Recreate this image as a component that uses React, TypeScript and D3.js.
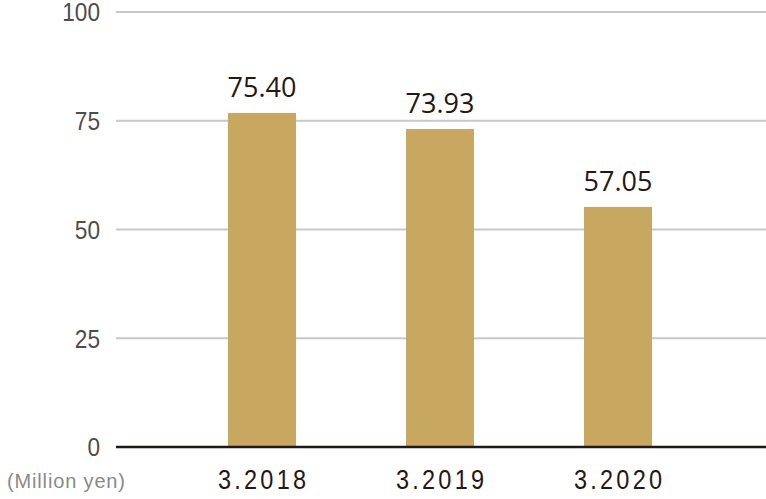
import React from 'react';
import * as d3 from 'd3';

// fiscal years on the x axis
const categories = ['3.2018', '3.2019', '3.2020'];
// bar heights as drawn in the picture
const barValues = [76.8, 73.1, 55.2];
// printed value labels above the bars
const valueLabels = ['75.40', '73.93', '57.05'];
const yTicks = [0, 25, 50, 75, 100];
const unitLabel = '(Million yen)';

const width = 766;
const height = 499;

function App() {
  const y = d3.scaleLinear().domain([0, 100]).range([447, 12]);
  const x = d3
    .scaleBand<string>()
    .domain(categories)
    .range([173, 707])
    .paddingInner(0.618)
    .paddingOuter(0.309);

  const sans = '"Liberation Sans", Arial, sans-serif';
  const squeeze = 0.87; // condensed look

  return (
    <svg
      width={width}
      height={height}
      style={{ position: 'absolute', left: 0, top: 0, display: 'block', background: '#fff' }}
    >
      {/* grid lines + y tick labels */}
      {yTicks.map((t) => (
        <g key={t}>
          {t !== 0 && (
            <line x1={116} x2={width} y1={y(t)} y2={y(t)} stroke="#c8c8c8" strokeWidth={2} />
          )}
          <text
            transform={`translate(100,${y(t)}) scale(${squeeze},1)`}
            dy="0.36em"
            textAnchor="end"
            fontFamily={sans}
            fontSize={26}
            fill="#4f4c4c"
          >
            {t}
          </text>
        </g>
      ))}

      {/* bars */}
      {categories.map((c, i) => {
        const cx = (x(c) ?? 0) + x.bandwidth() / 2;
        return (
          <g key={c}>
            <rect
              x={x(c)}
              y={y(barValues[i])}
              width={x.bandwidth()}
              height={y(0) - y(barValues[i])}
              fill="#c8a760"
            />
            <text
              x={cx}
              y={y(barValues[i]) - 16}
              textAnchor="middle"
              fontFamily='"Open Sans", "Noto Sans", sans-serif'
              fontSize={27}
              fill="#231815"
            >
              {valueLabels[i]}
            </text>
            <text
              transform={`translate(${cx},489) scale(${squeeze},1)`}
              textAnchor="middle"
              fontFamily={sans}
              fontSize={27}
              textLength={88 / squeeze}
              lengthAdjust="spacing"
              fill="#231815"
            >
              {c}
            </text>
          </g>
        );
      })}

      {/* baseline */}
      <line x1={116} x2={width} y1={y(0)} y2={y(0)} stroke="#231815" strokeWidth={2.5} />

      <text
        x={7}
        y={488}
        fontFamily={sans}
        fontSize={20}
        textLength={118}
        lengthAdjust="spacing"
        fill="#8a8a8a"
      >
        {unitLabel}
      </text>
    </svg>
  );
}

export default App;
